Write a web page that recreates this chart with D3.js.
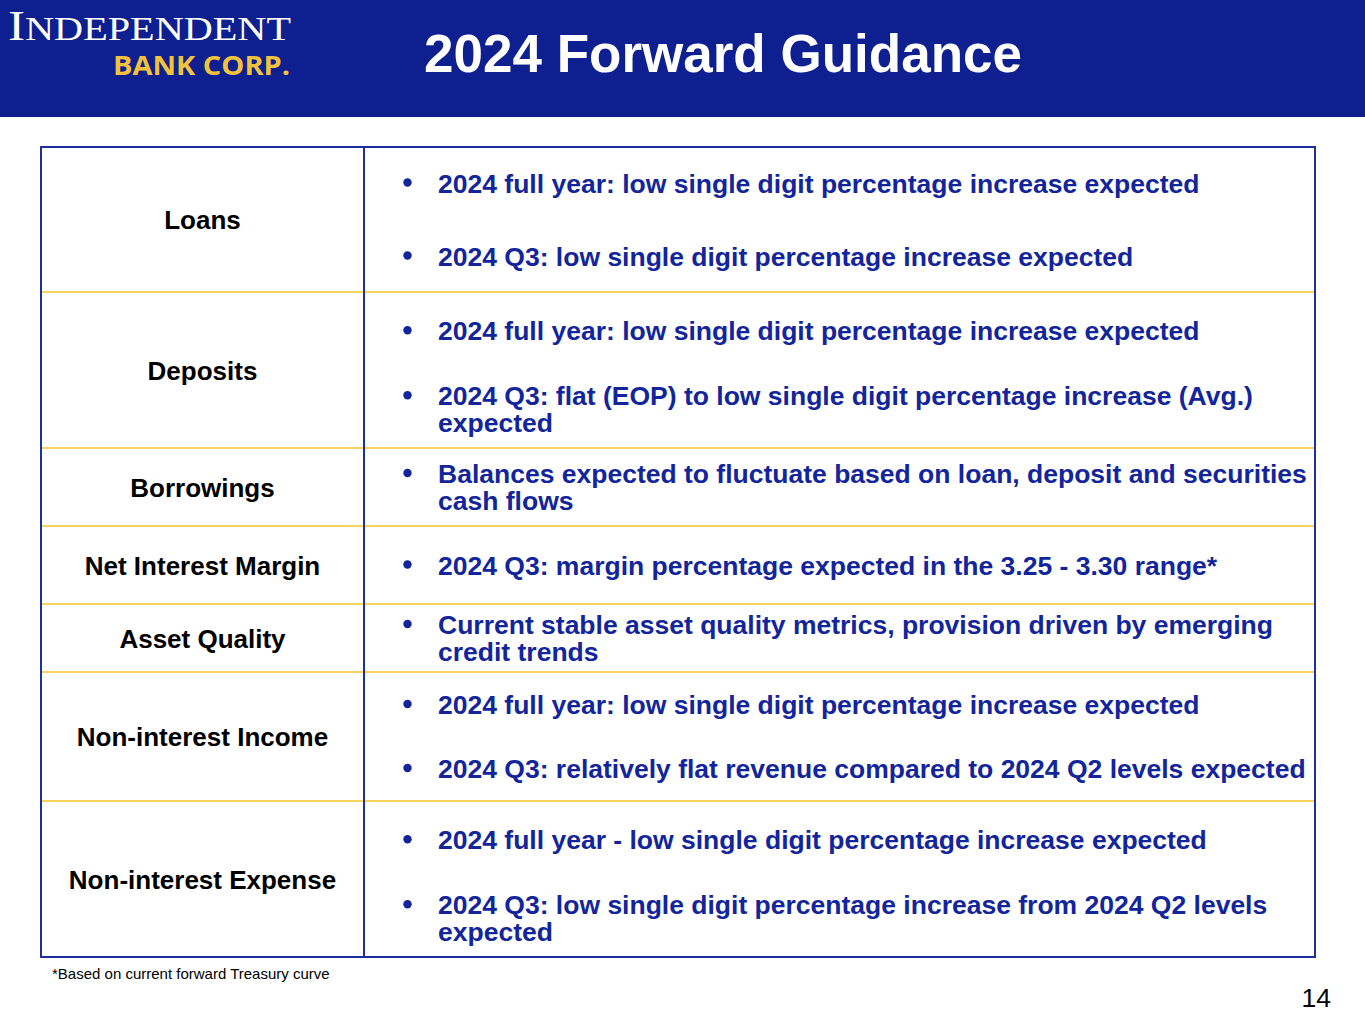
<!DOCTYPE html>
<html>
<head>
<meta charset="utf-8">
<script src="https://cdn.jsdelivr.net/npm/d3@7"></script>
<style>
  html, body { margin: 0; padding: 0; background: #fff; }
  svg { display: block; }
</style>
</head>
<body>
<div id="slide"></div>
<script>
// Slide content
const title = '2024 Forward Guidance';
const categories = ['Loans', 'Deposits', 'Borrowings', 'Net Interest Margin',
  'Asset Quality', 'Non-interest Income', 'Non-interest Expense'];
// each row: list of bullets, each bullet a list of wrapped lines
const bullets = [
  [['2024 full year: low single digit percentage increase expected'],
   ['2024 Q3: low single digit percentage increase expected']],
  [['2024 full year: low single digit percentage increase expected'],
   ['2024 Q3: flat (EOP) to low single digit percentage increase (Avg.)', 'expected']],
  [['Balances expected to fluctuate based on loan, deposit and securities', 'cash flows']],
  [['2024 Q3: margin percentage expected in the 3.25 - 3.30 range*']],
  [['Current stable asset quality metrics, provision driven by emerging', 'credit trends']],
  [['2024 full year: low single digit percentage increase expected'],
   ['2024 Q3: relatively flat revenue compared to 2024 Q2 levels expected']],
  [['2024 full year - low single digit percentage increase expected'],
   ['2024 Q3: low single digit percentage increase from 2024 Q2 levels', 'expected']]
];
const footnote = '*Based on current forward Treasury curve';
const pageNumber = '14';

// Layout
const W = 1365, H = 1024;
const rowHeights = [145, 156, 78, 78, 68, 129, 156];
const paraStep = [73, 65, 65, 65, 65, 64, 65];
const table = {x0: 41, x1: 1315, top: 147, split: 364};
const lineH = 27;
const navy = '#0E1F8F', textBlue = '#13259B', border = '#1F2E9E', gold = '#F6D35E';

const svg = d3.select('#slide').append('svg')
  .attr('width', W).attr('height', H);

// Header band
svg.append('rect').attr('x', 0).attr('y', 0).attr('width', W).attr('height', 117).attr('fill', navy);

// Logo
const logo = svg.append('text')
  .attr('x', 8).attr('y', 40)
  .attr('fill', '#fff')
  .attr('font-family', '"Liberation Serif", "DejaVu Serif", serif')
  .attr('textLength', 283).attr('lengthAdjust', 'spacingAndGlyphs');
logo.append('tspan').attr('font-size', 42).text('I');
logo.append('tspan').attr('font-size', 33).text('NDEPENDENT');

svg.append('text')
  .attr('x', 113).attr('y', 75)
  .attr('fill', '#F2C23C')
  .attr('font-family', '"Open Sans", Lato, sans-serif')
  .attr('font-weight', 700)
  .attr('font-size', 27)
  .attr('textLength', 177).attr('lengthAdjust', 'spacingAndGlyphs')
  .text('BANK CORP.');

// Title
svg.append('text')
  .attr('x', 723).attr('y', 72)
  .attr('text-anchor', 'middle')
  .attr('fill', '#fff')
  .attr('font-family', 'Arial, "Liberation Sans", sans-serif')
  .attr('font-weight', 700)
  .attr('font-size', 53)
  .text(title);

// Row positions
const rowTops = [];
rowHeights.reduce((acc, h) => { rowTops.push(acc); return acc + h; }, table.top);
const tableBottom = table.top + d3.sum(rowHeights);

const rows = svg.append('g').selectAll('g.row')
  .data(categories.map((c, i) => ({cat: c, paras: bullets[i], top: rowTops[i], h: rowHeights[i], step: paraStep[i]})))
  .join('g').attr('class', 'row');

// Category labels
rows.append('text')
  .attr('x', (table.x0 + table.split) / 2)
  .attr('y', d => d.top + d.h / 2 + 9.5)
  .attr('text-anchor', 'middle')
  .attr('fill', '#000')
  .attr('font-family', 'Arial, "Liberation Sans", sans-serif')
  .attr('font-weight', 700)
  .attr('font-size', 26)
  .text(d => d.cat);

// Bullet paragraphs
rows.each(function(d) {
  const g = d3.select(this);
  // paragraph first-line offsets
  const starts = [];
  let off = 0;
  d.paras.forEach((p, k) => {
    starts.push(off);
    off += (p.length - 1) * lineH + d.step;
  });
  const centers = d.paras.map((p, k) => starts[k] + (p.length - 1) * lineH / 2);
  const shift = d.top + d.h / 2 - d3.mean(centers);

  d.paras.forEach((p, k) => {
    const y0 = shift + starts[k];
    g.append('circle')
      .attr('cx', 407.5).attr('cy', y0 - 0.5).attr('r', 4.2)
      .attr('fill', textBlue);
    const t = g.append('text')
      .attr('fill', textBlue)
      .attr('font-family', 'Arial, "Liberation Sans", sans-serif')
      .attr('font-weight', 700)
      .attr('font-size', 26.5);
    p.forEach((line, j) => {
      t.append('tspan')
        .attr('x', 438)
        .attr('y', y0 + j * lineH + 9.5)
        .text(line);
    });
  });
});

// Row separators
svg.append('g').selectAll('line')
  .data(rowTops.slice(1))
  .join('line')
  .attr('x1', table.x0).attr('x2', table.x1)
  .attr('y1', d => d).attr('y2', d => d)
  .attr('stroke', gold).attr('stroke-width', 2);

// Column divider and outer frame
svg.append('line')
  .attr('x1', table.split).attr('x2', table.split)
  .attr('y1', table.top).attr('y2', tableBottom)
  .attr('stroke', border).attr('stroke-width', 2);
svg.append('rect')
  .attr('x', table.x0).attr('y', table.top)
  .attr('width', table.x1 - table.x0).attr('height', tableBottom - table.top)
  .attr('fill', 'none').attr('stroke', border).attr('stroke-width', 2);

// Footnote and page number
svg.append('text')
  .attr('x', 52).attr('y', 979)
  .attr('font-family', 'Arial, "Liberation Sans", sans-serif')
  .attr('font-size', 15)
  .attr('fill', '#000')
  .text(footnote);

svg.append('text')
  .attr('x', 1331).attr('y', 1007)
  .attr('text-anchor', 'end')
  .attr('font-family', 'Arial, "Liberation Sans", sans-serif')
  .attr('font-size', 26.5)
  .attr('fill', '#000')
  .text(pageNumber);
</script>
</body>
</html>
